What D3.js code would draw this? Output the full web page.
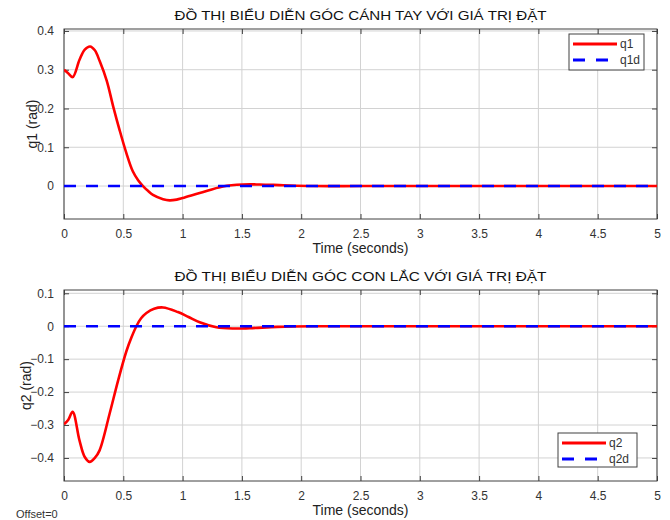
<!DOCTYPE html>
<html>
<head>
<meta charset="utf-8">
<script src="https://cdn.jsdelivr.net/npm/d3@7"></script>
<style>
  body { margin: 0; background: #fff; }
  text { font-family: "Liberation Sans", Arial, sans-serif; fill: #262626; }
</style>
</head>
<body>
<svg id="chart" width="670" height="520"></svg>
<script>
// ---- data ----
var time1 = [0, 0.035, 0.073, 0.13, 0.175, 0.22, 0.26, 0.30, 0.36, 0.415, 0.47, 0.526, 0.58, 0.625, 0.666, 0.71, 0.75, 0.835, 0.89, 0.95, 1.0, 1.144, 1.34, 1.51, 1.65, 1.85, 2.1, 2.5, 3, 3.5, 4, 4.5, 5];
var q1 = [0.3, 0.291, 0.281, 0.325, 0.352, 0.36, 0.35, 0.323, 0.272, 0.205, 0.143, 0.085, 0.038, 0.015, 0, -0.013, -0.023, -0.034, -0.037, -0.035, -0.031, -0.018, -0.001, 0.004, 0.004, 0.002, 0, 0, 0, 0, 0, 0, 0];

var time2 = [0, 0.035, 0.073, 0.13, 0.175, 0.217, 0.26, 0.30, 0.385, 0.456, 0.526, 0.57, 0.61, 0.65, 0.695, 0.76, 0.835, 0.96, 1.05, 1.144, 1.285, 1.425, 1.566, 1.8, 2.1, 2.5, 3, 3.5, 4, 4.5, 5];
var q2 = [-0.298, -0.285, -0.26, -0.346, -0.397, -0.412, -0.4, -0.377, -0.265, -0.165, -0.076, -0.033, 0, 0.024, 0.04, 0.053, 0.057, 0.043, 0.028, 0.012, -0.003, -0.007, -0.006, -0.002, 0, 0, 0, 0, 0, 0, 0];

var timeRef = [0, 5];
var q1d = [0, 0];
var q2d = [0, 0];

var xTicks = [0, 0.5, 1, 1.5, 2, 2.5, 3, 3.5, 4, 4.5, 5];
var yTicks1 = [0, 0.1, 0.2, 0.3, 0.4];
var yTicks2 = [-0.4, -0.3, -0.2, -0.1, 0, 0.1];

var svg = d3.select("svg#chart");

// one MATLAB-like subplot
function drawPanel(opt) {
  var left = 64, right = 657;
  var x = d3.scaleLinear().domain([0, 5]).range([left, right]);
  var y = d3.scaleLinear().domain(opt.yDomain).range([opt.bottom, opt.top]);
  var g = svg.append("g");

  var clipId = "clip" + opt.id;
  svg.append("clipPath").attr("id", clipId)
    .append("rect").attr("x", left).attr("y", opt.top)
    .attr("width", right - left).attr("height", opt.bottom - opt.top);

  // grid
  g.append("g").selectAll("line").data(xTicks).enter().append("line")
    .attr("x1", function(d) { return x(d); }).attr("x2", function(d) { return x(d); })
    .attr("y1", opt.top).attr("y2", opt.bottom)
    .attr("stroke", "#d2d2d2").attr("stroke-width", 1);
  g.append("g").selectAll("line").data(opt.yTicks).enter().append("line")
    .attr("y1", function(d) { return y(d); }).attr("y2", function(d) { return y(d); })
    .attr("x1", left).attr("x2", right)
    .attr("stroke", "#d2d2d2").attr("stroke-width", 1);

  // axes (ticks pointing in)
  var fmt = function(d) { return d3.format("")(+d.toFixed(2)); };
  var xb = g.append("g").attr("transform", "translate(0," + opt.bottom + ")")
    .call(d3.axisBottom(x).tickValues(xTicks).tickSizeInner(-5).tickSizeOuter(0).tickPadding(10).tickFormat(fmt));
  var xt = g.append("g").attr("transform", "translate(0," + opt.top + ")")
    .call(d3.axisTop(x).tickValues(xTicks).tickSizeInner(-5).tickSizeOuter(0).tickFormat(""));
  var yl = g.append("g").attr("transform", "translate(" + left + ",0)")
    .call(d3.axisLeft(y).tickValues(opt.yTicks).tickSizeInner(-5).tickSizeOuter(0).tickPadding(10).tickFormat(fmt));
  var yr = g.append("g").attr("transform", "translate(" + right + ",0)")
    .call(d3.axisRight(y).tickValues(opt.yTicks).tickSizeInner(-5).tickSizeOuter(0).tickFormat(""));
  [xb, xt, yl, yr].forEach(function(a) {
    a.select(".domain").remove();
    a.selectAll(".tick line").attr("stroke", "#404040");
    a.selectAll(".tick text").style("font-size", "12px").style("fill", "#333");
  });

  g.append("rect").attr("x", left).attr("y", opt.top)
    .attr("width", right - left).attr("height", opt.bottom - opt.top)
    .attr("fill", "none").attr("stroke", "#404040").attr("stroke-width", 1);

  // curves
  var line = d3.line().x(function(d) { return x(d[0]); }).y(function(d) { return y(d[1]); })
    .curve(d3.curveCatmullRom.alpha(0.5));
  var lines = g.append("g").attr("clip-path", "url(#" + clipId + ")");
  lines.append("path").datum(d3.zip(opt.time, opt.values))
    .attr("d", line).attr("fill", "none").attr("stroke", "#ff0000").attr("stroke-width", 2.6);
  lines.append("path").datum(d3.zip(timeRef, opt.ref))
    .attr("d", line).attr("fill", "none").attr("stroke", "#0000ff").attr("stroke-width", 2.6)
    .attr("stroke-dasharray", "12,10");

  // labels
  svg.append("text").attr("x", (left + right) / 2).attr("y", opt.top - 9)
    .attr("text-anchor", "middle").style("font-size", "13px").style("fill", "#111")
    .attr("textLength", 372).attr("lengthAdjust", "spacingAndGlyphs")
    .text(opt.title);
  svg.append("text").attr("x", (left + right) / 2).attr("y", opt.bottom + 34)
    .attr("text-anchor", "middle").style("font-size", "14px").style("fill", "#222")
    .text("Time (seconds)");
  svg.append("text")
    .attr("transform", "translate(" + opt.ylabelX + "," + (opt.top + opt.bottom) / 2 + ") rotate(-90)")
    .attr("text-anchor", "middle").style("font-size", "14px").style("fill", "#222")
    .text(opt.ylabel);

  // legend
  var L = opt.legend;
  var lg = svg.append("g");
  lg.append("rect").attr("x", L.x).attr("y", L.y).attr("width", L.w).attr("height", L.h)
    .attr("fill", "#fff").attr("stroke", "#404040").attr("stroke-width", 1);
  var items = [
    { name: opt.names[0], color: "#ff0000", dash: null },
    { name: opt.names[1], color: "#0000ff", dash: "12,11" }
  ];
  items.forEach(function(it, i) {
    var yy = L.y + 10 + i * 16;
    lg.append("line").attr("x1", L.x + 4).attr("x2", L.x + 48)
      .attr("y1", yy).attr("y2", yy)
      .attr("stroke", it.color).attr("stroke-width", 2.8)
      .attr("stroke-dasharray", it.dash);
    lg.append("text").attr("x", L.x + 51).attr("y", yy + 4)
      .style("font-size", "12px").style("fill", "#333").text(it.name);
  });
}

drawPanel({
  id: 1, top: 29, bottom: 219, yDomain: [-0.085, 0.405], yTicks: yTicks1,
  time: time1, values: q1, ref: q1d,
  title: "ĐỒ THỊ BIỂU DIỄN GÓC CÁNH TAY VỚI GIÁ TRỊ ĐẶT",
  ylabel: "q1 (rad)", ylabelX: 37, names: ["q1", "q1d"],
  legend: { x: 569, y: 34, w: 75, h: 36 }
});

drawPanel({
  id: 2, top: 290, bottom: 481, yDomain: [-0.47, 0.11], yTicks: yTicks2,
  time: time2, values: q2, ref: q2d,
  title: "ĐỒ THỊ BIỂU DIỄN GÓC CON LẮC VỚI GIÁ TRỊ ĐẶT",
  ylabel: "q2 (rad)", ylabelX: 31, names: ["q2", "q2d"],
  legend: { x: 558, y: 433, w: 79, h: 34 }
});

svg.append("text").attr("x", 16).attr("y", 518)
  .style("font-size", "11px").style("fill", "#333").text("Offset=0");
</script>
</body>
</html>
